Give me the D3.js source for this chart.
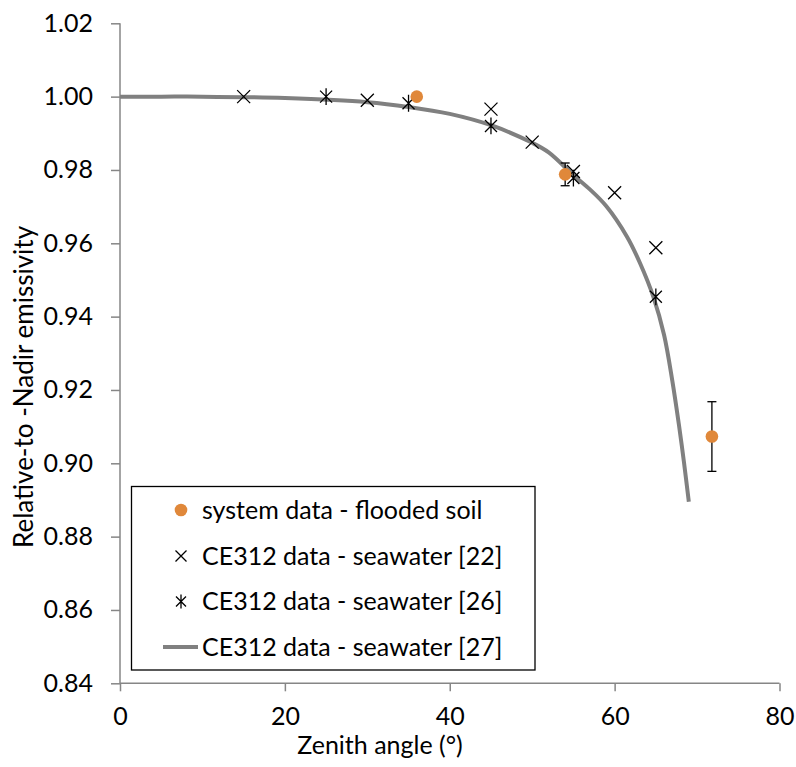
<!DOCTYPE html>
<html>
<head>
<meta charset="utf-8">
<script src="https://cdn.jsdelivr.net/npm/d3@7"></script>
<style>
  body { margin: 0; background: #fff; }
  svg text { font-family: Lato, "Open Sans", sans-serif; fill: #000; }
</style>
</head>
<body>
<svg id="chart" width="796" height="767"></svg>
<script>
(function() {

  // system data - flooded soil
  var soilAngle = [36, 54, 71.8];
  var soilValue = [1.000, 0.9788, 0.9073];
  var soilErr = [0, 0.0031, 0.0095];

  // CE312 data - seawater [22]
  var ref22Angle = [15, 30, 45, 50, 55, 60, 65];
  var ref22Value = [1.000, 0.999, 0.9966, 0.9876, 0.9796, 0.9738, 0.9588];

  // CE312 data - seawater [26]
  var ref26Angle = [25, 35, 45, 55, 65];
  var ref26Value = [1.000, 0.9982, 0.992, 0.9778, 0.9454];

  // CE312 data - seawater [27] (curve)
  var ref27Angle = [0, 5, 10, 20, 30, 35, 40, 45, 50, 52, 55, 57, 59, 61.5, 63.1, 64.7, 66, 67, 67.8, 68.4, 69];
  var ref27Value = [1.0, 1.0, 1.0, 0.9996, 0.9985, 0.9972, 0.9953, 0.9922, 0.9874, 0.9848, 0.9786, 0.9747,
    0.9701, 0.9618, 0.9545, 0.9454, 0.9350, 0.9225, 0.9105, 0.9005, 0.8895];

  var xTicks = [0, 20, 40, 60, 80];
  var yTicks = [0.84, 0.86, 0.88, 0.90, 0.92, 0.94, 0.96, 0.98, 1.00, 1.02];

  var legendLabels = ["system data - flooded soil", "CE312 data - seawater [22]",
    "CE312 data - seawater [26]", "CE312 data - seawater [27]"];

  var orange = "#E0883A";
  var axisGrey = "#868686";

  var svg = d3.select("#chart");
  var x = d3.scaleLinear().domain([0, 80]).range([120, 779.5]);
  var y = d3.scaleLinear().domain([0.84, 1.02]).range([683.3, 23.3]);

  // axes
  var xAxis = svg.append("g")
      .attr("transform", "translate(0," + y(0.84) + ")")
      .call(d3.axisBottom(x).tickValues(xTicks).tickSize(8).tickPadding(16).tickFormat(d3.format("d")));
  var yAxis = svg.append("g")
      .attr("transform", "translate(" + x(0) + ",0)")
      .call(d3.axisLeft(y).tickValues(yTicks).tickSize(9).tickPadding(18).tickFormat(d3.format(".2f")));

  [xAxis, yAxis].forEach(function(a) {
    a.select(".domain").attr("stroke", axisGrey).attr("stroke-width", 1.5);
    a.selectAll(".tick line").attr("stroke", axisGrey).attr("stroke-width", 1.5);
    a.selectAll(".tick text").style("font-size", "25px").attr("fill", "#000");
  });
  xAxis.select(".domain").attr("d", "M" + x(0) + ",0H" + x(80));
  yAxis.select(".domain").attr("d", "M0," + y(0.84) + "V" + y(1.02));

  // axis titles
  svg.append("text")
      .attr("x", 380)
      .attr("y", 754)
      .attr("text-anchor", "middle")
      .style("font-size", "25px")
      .text("Zenith angle (°)");

  svg.append("text")
      .attr("transform", "translate(33,548) rotate(-90)")
      .attr("text-anchor", "start")
      .style("font-size", "26px")
      .text("Relative-to -Nadir emissivity");

  // curve [27]
  var line = d3.line()
      .x(function(d) { return x(d[0]); })
      .y(function(d) { return y(d[1]); })
      .curve(d3.curveCatmullRom.alpha(0.5));

  svg.append("path")
      .datum(d3.zip(ref27Angle, ref27Value))
      .attr("d", line)
      .attr("fill", "none")
      .attr("stroke", "#808080")
      .attr("stroke-width", 4);

  function cross(g, cx, cy, s, star) {
    g.append("path")
        .attr("d", "M" + (cx - s) + "," + (cy - s) + "L" + (cx + s) + "," + (cy + s) +
          "M" + (cx - s) + "," + (cy + s) + "L" + (cx + s) + "," + (cy - s) +
          (star ? "M" + cx + "," + (cy - s * 1.4) + "V" + (cy + s * 1.4) : ""))
        .attr("stroke", "#000")
        .attr("stroke-width", 1.3)
        .attr("fill", "none");
  }

  var marks = svg.append("g");

  d3.zip(ref22Angle, ref22Value).forEach(function(d) {
    cross(marks, x(d[0]), y(d[1]), 6.5, false);
  });
  d3.zip(ref26Angle, ref26Value).forEach(function(d) {
    cross(marks, x(d[0]), y(d[1]), 6, true);
  });

  // flooded soil points with error bars
  var soil = d3.zip(soilAngle, soilValue, soilErr);
  var err = svg.append("g").attr("stroke", "#000").attr("stroke-width", 1.3);
  soil.filter(function(d) { return d[2] > 0; }).forEach(function(d) {
    var cx = x(d[0]), t = y(d[1] + d[2]), b = y(d[1] - d[2]);
    err.append("line").attr("x1", cx).attr("x2", cx).attr("y1", t).attr("y2", b);
    err.append("line").attr("x1", cx - 4.5).attr("x2", cx + 4.5).attr("y1", t).attr("y2", t);
    err.append("line").attr("x1", cx - 4.5).attr("x2", cx + 4.5).attr("y1", b).attr("y2", b);
  });
  svg.append("g").selectAll("circle")
      .data(soil)
      .join("circle")
      .attr("cx", function(d) { return x(d[0]); })
      .attr("cy", function(d) { return y(d[1]); })
      .attr("r", 6.3)
      .attr("fill", orange);

  // legend
  var legend = svg.append("g");
  legend.append("rect")
      .attr("x", 131.5).attr("y", 486.5)
      .attr("width", 403.5).attr("height", 183.5)
      .attr("fill", "#fff")
      .attr("stroke", "#000")
      .attr("stroke-width", 1.3);

  var rowY = [510, 556, 601.5, 647];
  legend.append("circle").attr("cx", 181).attr("cy", rowY[0]).attr("r", 6.3).attr("fill", orange);
  cross(legend, 181, rowY[1], 5.5, false);
  cross(legend, 181, rowY[2], 5, true);
  legend.append("line")
      .attr("x1", 163).attr("x2", 198)
      .attr("y1", rowY[3]).attr("y2", rowY[3])
      .attr("stroke", "#808080").attr("stroke-width", 4);

  legendLabels.forEach(function(t, i) {
    legend.append("text")
        .attr("x", 202)
        .attr("y", rowY[i])
        .attr("dy", "0.35em")
        .style("font-size", "25px")
        .text(t);
  });

})();
</script>
</body>
</html>
